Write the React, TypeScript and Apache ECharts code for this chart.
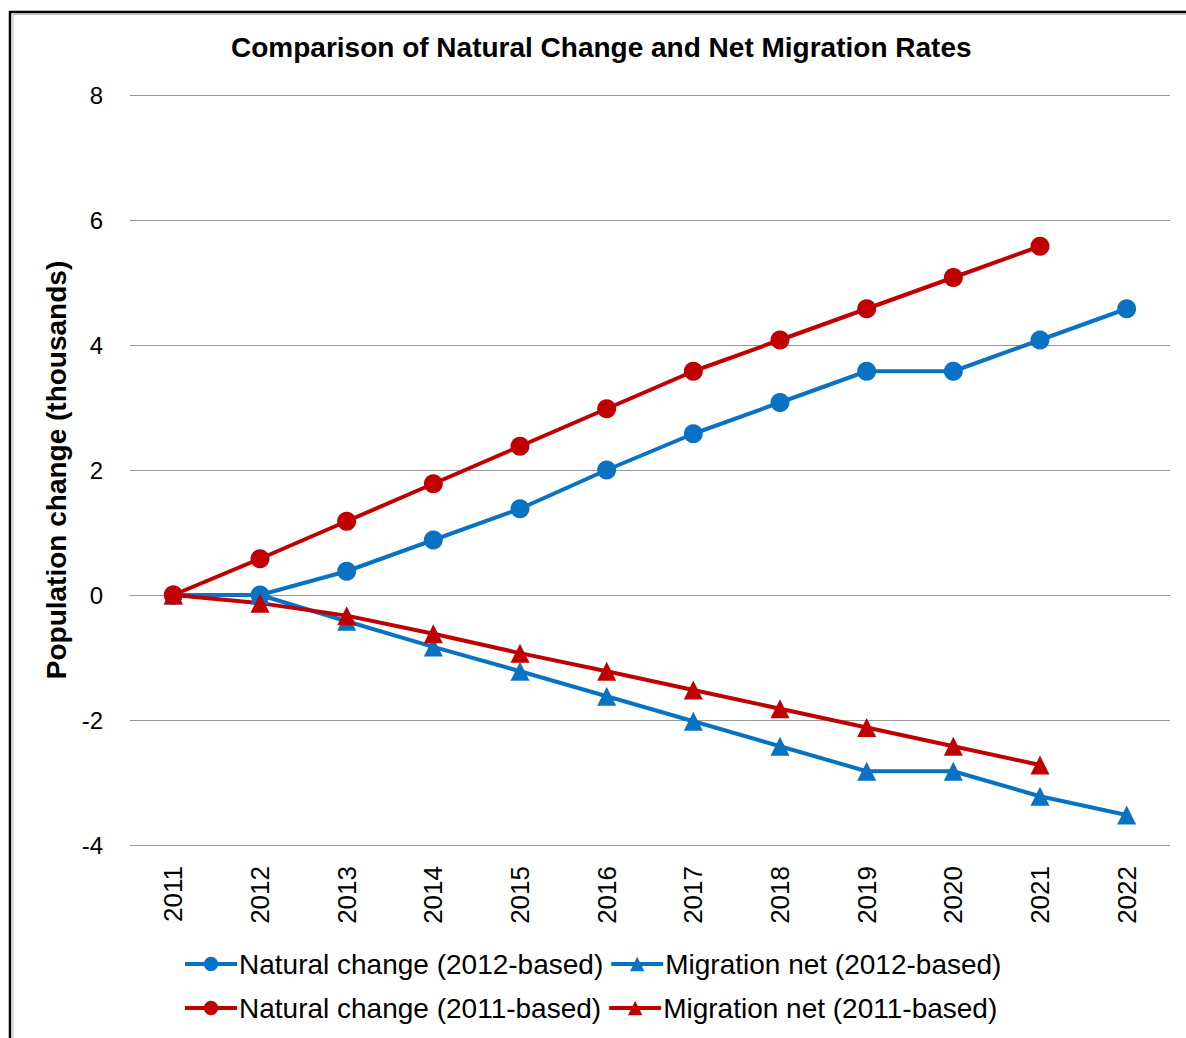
import React, { useEffect, useRef } from "react";
import * as echarts from "echarts";

const years = ["2011", "2012", "2013", "2014", "2015", "2016", "2017", "2018", "2019", "2020", "2021", "2022"];
const natural2012 = [0, 0, 0.38, 0.88, 1.38, 2.0, 2.58, 3.08, 3.58, 3.58, 4.08, 4.58];
const migration2012 = [0, 0, -0.42, -0.83, -1.22, -1.62, -2.02, -2.42, -2.82, -2.82, -3.22, -3.52];
const natural2011 = [0, 0.58, 1.18, 1.78, 2.38, 2.98, 3.58, 4.08, 4.58, 5.08, 5.58, null];
const migration2011 = [0, -0.13, -0.33, -0.62, -0.93, -1.22, -1.52, -1.82, -2.12, -2.42, -2.72, null];

const BLUE = "#0A72C2";
const RED = "#C00000";
const FONT = "'Liberation Sans', Arial, sans-serif";

export default function App() {
  const ref = useRef<HTMLDivElement>(null);
  useEffect(() => {
    if (!ref.current) return;
    const chart = echarts.init(ref.current, null, { renderer: "svg" });
    const mk = (name: string, data: (number | null)[], color: string, symbol: string, size: number) => ({
      name,
      type: "line",
      data,
      symbol,
      symbolSize: size,
      lineStyle: { color, width: 4 },
      itemStyle: { color },
      z: 3,
    });
    const legendBase = {
      itemWidth: 52,
      itemHeight: 18,
      itemGap: 6,
      padding: 0,
      lineStyle: { width: 4 },
      textStyle: { fontFamily: FONT, fontSize: 28, color: "#000", padding: [0, 0, 0, -3] },
    };
    chart.setOption({
      animation: false,
      backgroundColor: "#ffffff",
      textStyle: { fontFamily: FONT },
      title: {
        text: "Comparison of Natural Change and Net Migration Rates",
        left: 231,
        top: 33,
        padding: 0,
        textStyle: { fontFamily: FONT, fontSize: 28, fontWeight: "bold", color: "#000" },
      },
      graphic: [
        { type: "rect", shape: { x: 10, y: 12, width: 1200, height: 1100 }, style: { fill: "none", stroke: "#000", lineWidth: 2.5 }, silent: true },
        { type: "rect", shape: { x: 13, y: 14.5, width: 1200, height: 1100 }, style: { fill: "none", stroke: "#bbbbbb", lineWidth: 1 }, silent: true },
      ],
      grid: { left: 130, right: 16, top: 95, bottom: 193, containLabel: false },
      legend: [
        {
          ...legendBase,
          data: ["Natural change (2012-based)", "Migration net (2012-based)"],
          left: 183,
          top: 950,
        },
        {
          ...legendBase,
          data: ["Natural change (2011-based)", "Migration net (2011-based)"],
          left: 183,
          top: 994,
        },
      ],
      xAxis: {
        type: "category",
        data: years,
        boundaryGap: true,
        axisLine: { show: true, lineStyle: { color: "#999", width: 1 } },
        axisTick: { show: false },
        axisLabel: { rotate: 90, margin: 21, fontSize: 26, color: "#000", fontFamily: FONT },
      },
      yAxis: {
        type: "value",
        min: -4,
        max: 8,
        interval: 2,
        name: "Population change (thousands)",
        nameLocation: "middle",
        nameGap: 58,
        nameTextStyle: { fontFamily: FONT, fontSize: 28, fontWeight: "bold", color: "#000" },
        axisLine: { show: false },
        axisTick: { show: false },
        axisLabel: { fontSize: 24, color: "#000", margin: 27, fontFamily: FONT },
        splitLine: { show: true, lineStyle: { color: "#999", width: 1 } },
      },
      series: [
        mk("Natural change (2012-based)", natural2012, BLUE, "circle", 19),
        mk("Migration net (2012-based)", migration2012, BLUE, "triangle", 19),
        mk("Natural change (2011-based)", natural2011, RED, "circle", 19),
        mk("Migration net (2011-based)", migration2011, RED, "triangle", 19),
      ],
    });
    return () => chart.dispose();
  }, []);
  return (
    <div
      ref={ref}
      style={{ position: "fixed", left: 0, top: 0, width: 1186, height: 1038, background: "#fff" }}
    />
  );
}
